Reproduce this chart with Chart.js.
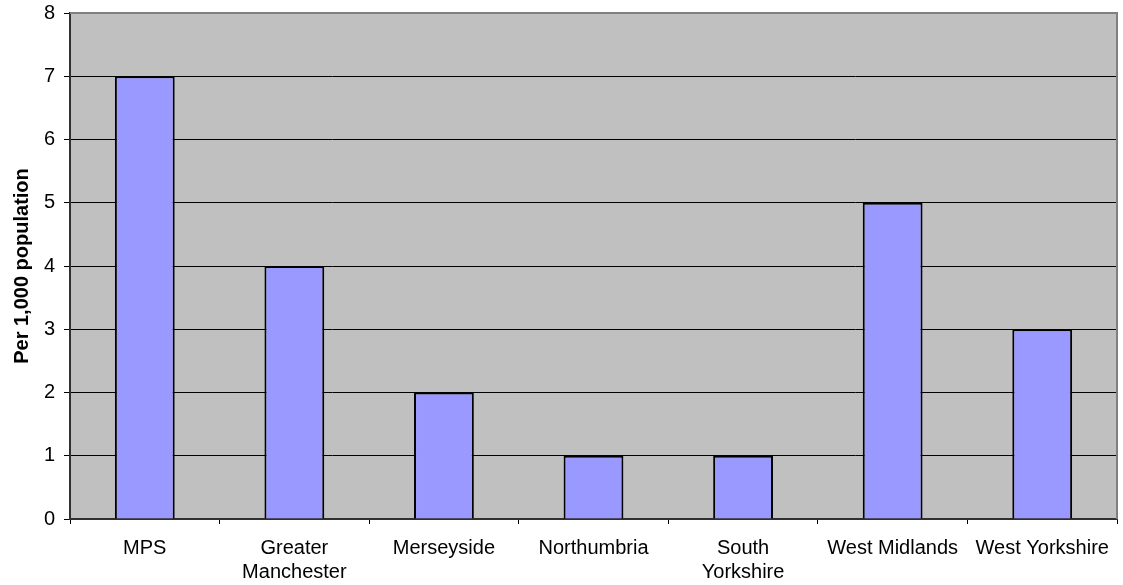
<!DOCTYPE html>
<html>
<head>
<meta charset="utf-8">
<script src="https://cdn.jsdelivr.net/npm/chart.js@4/dist/chart.umd.min.js"></script>
<style>
  html, body { margin: 0; padding: 0; background: #ffffff; }
  #wrap { width: 1123px; height: 585px; position: relative; }
</style>
</head>
<body>
<div id="wrap"><canvas id="chart" width="1123" height="585"></canvas></div>
<script>
// Police force areas and rate per 1,000 population
const forces = [
  'MPS',
  ['Greater', 'Manchester'],
  'Merseyside',
  'Northumbria',
  ['South', 'Yorkshire'],
  'West Midlands',
  'West Yorkshire'
];
const ratePer1000 = [7, 4, 2, 1, 1, 5, 3];
const yTicks = [0, 1, 2, 3, 4, 5, 6, 7, 8];
const yTitle = 'Per 1,000 population';

// Grey plot area with a thin grey frame behind the bars
const plotBackground = {
  id: 'plotBackground',
  beforeDraw(chart) {
    const { ctx, chartArea: a } = chart;
    ctx.save();
    ctx.fillStyle = '#c0c0c0';
    ctx.fillRect(a.left, a.top, a.right - a.left, a.bottom - a.top);
    ctx.restore();
  },
  beforeDatasetsDraw(chart) {
    const { ctx, chartArea: a } = chart;
    ctx.save();
    ctx.strokeStyle = '#808080';
    ctx.lineWidth = 2;
    ctx.beginPath();
    ctx.moveTo(a.left, a.top);
    ctx.lineTo(a.right, a.top);
    ctx.lineTo(a.right, a.bottom);
    ctx.stroke();
    ctx.restore();
  }
};

const font = { family: '"Liberation Sans", Arial, sans-serif', size: 20 };
const topValue = yTicks[yTicks.length - 1];

new Chart(document.getElementById('chart'), {
  type: 'bar',
  data: {
    labels: forces,
    datasets: [{
      data: ratePer1000,
      backgroundColor: '#9999ff',
      borderColor: '#000000',
      borderWidth: 2,
      barPercentage: 0.4,
      categoryPercentage: 1.0
    }]
  },
  options: {
    responsive: false,
    animation: false,
    devicePixelRatio: 1,
    layout: { padding: { top: 13, right: 6, left: 0, bottom: 0 } },
    plugins: {
      legend: { display: false },
      tooltip: { enabled: false }
    },
    scales: {
      x: {
        offset: true,
        grid: {
          offset: true,
          drawOnChartArea: false,
          drawTicks: true,
          tickLength: 5,
          color: '#000000'
        },
        border: { display: true, color: '#303030', width: 2 },
        ticks: {
          color: '#000000',
          font: font,
          maxRotation: 0,
          autoSkip: false,
          padding: 12
        },
        afterFit(scale) {
          scale.height = 66;
          scale.paddingLeft = 0;
          scale.paddingRight = 0;
        }
      },
      y: {
        min: 0,
        max: 8,
        afterBuildTicks(scale) { scale.ticks = yTicks.map(v => ({ value: v })); },
        grid: {
          color: (c) => (c.tick && c.tick.value === topValue ? '#808080' : '#000000'),
          tickColor: '#000000',
          lineWidth: 1,
          drawTicks: true,
          tickLength: 6
        },
        border: { display: true, color: '#303030', width: 2 },
        ticks: {
          color: '#000000',
          font: font,
          padding: 9
        },
        title: {
          display: true,
          text: yTitle,
          color: '#000000',
          font: { family: font.family, size: 20, weight: 'bold' },
          padding: { top: 10, bottom: 0 }
        },
        afterFit(scale) {
          scale.width = 70;
          scale.paddingTop = 0;
          scale.paddingBottom = 0;
        }
      }
    }
  },
  plugins: [plotBackground]
});
</script>
</body>
</html>
